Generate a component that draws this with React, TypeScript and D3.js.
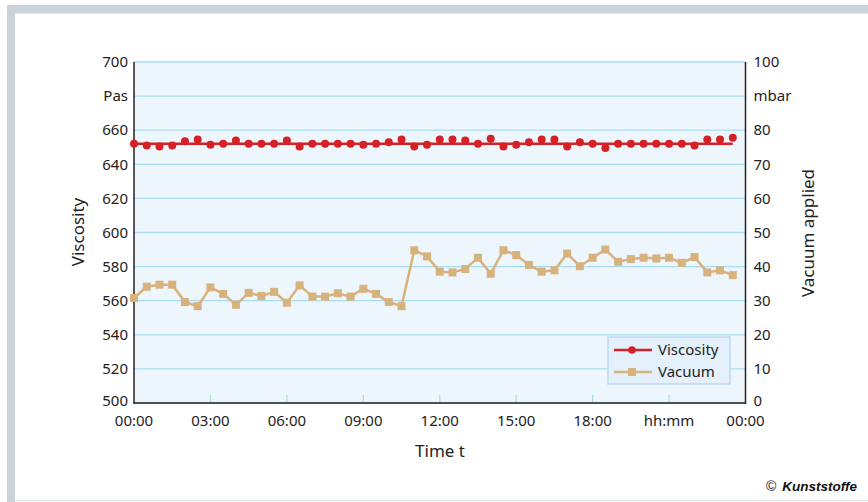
import React from "react";
import * as d3 from "d3";

// Time in half-hour steps (hours)
const viscosity: number[] = [
  652, 651, 650.5, 651, 653.5, 654.5, 651.5, 652, 654, 652, 652, 652,
  654, 650.5, 652, 652, 652, 652, 651.5, 652, 653, 654.5, 650.5, 651.5,
  654.5, 654.5, 654, 652, 655, 650.5, 651.5, 653, 654.5, 654.5, 650.5, 653,
  652, 649.5, 652, 652, 652, 652, 652, 652, 651, 654.5, 654.5, 655.5,
];
const viscosityTrend = 652;
const vacuum: number[] = [
  30.8, 34.1, 34.7, 34.7, 29.6, 28.4, 33.9, 32, 28.8, 32.3, 31.4, 32.6,
  29.4, 34.5, 31.2, 31.2, 32.2, 31.2, 33.5, 32, 29.6, 28.4, 44.8, 43.0,
  38.5, 38.3, 39.3, 42.6, 37.9, 44.8, 43.4, 40.5, 38.5, 38.9, 43.8, 40.1,
  42.6, 45.0, 41.4, 42.2, 42.6, 42.4, 42.6, 41.1, 42.8, 38.3, 38.9, 37.5,
];
const stepHours = 0.5;
const xTicks = [0, 3, 6, 9, 12, 15, 18, 21, 24];
const xTickLabels = ["00:00", "03:00", "06:00", "09:00", "12:00", "15:00", "18:00", "hh:mm", "00:00"];
const leftTicks = [500, 520, 540, 560, 580, 600, 620, 640, 660, 680, 700];
const leftTickLabels = ["500", "520", "540", "560", "580", "600", "620", "640", "660", "Pas", "700"];
const rightTicks = [0, 10, 20, 30, 40, 50, 60, 70, 80, 90, 100];
const rightTickLabels = ["0", "10", "20", "30", "40", "50", "60", "70", "80", "mbar", "100"];

const W = 868;
const H = 502;
const L = 134, R = 745.5, T = 62, B = 403;
const FONT = "'Noto Sans', sans-serif";
const RED = "#d52027";
const TAN = "#d8b27c";

export default function App() {
  const x = d3.scaleLinear().domain([0, 24]).range([L, R]);
  const yL = d3.scaleLinear().domain([500, 700]).range([B, T]);
  const yR = d3.scaleLinear().domain([0, 100]).range([B, T]);

  const vacLine = d3
    .line<number>()
    .x((_, i) => x(i * stepHours))
    .y((d) => yR(d));

  const lastT = (viscosity.length - 1) * stepHours;

  return (
    <svg
      width={W}
      height={H}
      style={{ position: "absolute", left: 0, top: 0, fontFamily: FONT }}
    >
      <rect x={0} y={0} width={W} height={H} fill="#fff" />
      {/* frame */}
      <rect x={7} y={5} width={W - 7} height={8.5} fill="#cbd3db" />
      <rect x={7} y={5} width={8} height={H - 5} fill="#cbd3db" />
      <rect x={15} y={500} width={W - 15} height={1.2} fill="#dde2e6" />

      {/* plot area */}
      <rect x={L} y={T} width={R - L} height={B - T} fill="#eef6fd" />
      {leftTicks.map((t) => (
        <line key={t} x1={L} x2={R} y1={yL(t)} y2={yL(t)} stroke="#a9dcf1" strokeWidth={1.3} />
      ))}
      {xTicks.slice(1, -1).map((t) => (
        <line key={t} x1={x(t)} x2={x(t)} y1={B} y2={B - 8} stroke="#a9dcf1" strokeWidth={1.3} />
      ))}
      <line x1={L} x2={L} y1={T} y2={B + 1} stroke="#222" strokeWidth={1.5} />
      <line x1={R} x2={R} y1={T} y2={B + 1} stroke="#222" strokeWidth={1.5} />
      <line x1={L} x2={R} y1={B} y2={B} stroke="#222" strokeWidth={1.5} />

      {/* vacuum series */}
      <path d={vacLine(vacuum) ?? ""} fill="none" stroke={TAN} strokeWidth={2.5} />
      {vacuum.map((v, i) => (
        <rect key={i} x={x(i * stepHours) - 4} y={yR(v) - 4} width={8} height={8} fill={TAN} />
      ))}

      {/* viscosity series */}
      <line x1={x(0)} x2={x(lastT)} y1={yL(viscosityTrend)} y2={yL(viscosityTrend)} stroke={RED} strokeWidth={2.5} />
      {viscosity.map((v, i) => (
        <circle key={i} cx={x(i * stepHours)} cy={yL(v)} r={4} fill={RED} />
      ))}

      {/* left axis labels */}
      {leftTicks.map((t, i) => (
        <text key={t} x={L - 6} y={yL(t) - (i === 0 ? 2 : 0)} dy="0.35em" textAnchor="end" fontSize={15} fill="#222">
          {leftTickLabels[i]}
        </text>
      ))}
      {rightTicks.map((t, i) => (
        <text key={t} x={R + 8} y={yR(t) - (i === 0 ? 2 : 0)} dy="0.35em" textAnchor="start" fontSize={15} fill="#222">
          {rightTickLabels[i]}
        </text>
      ))}
      {xTicks.map((t, i) => (
        <text key={i} x={x(t)} y={B + 23} textAnchor="middle" fontSize={15} fill="#222">
          {xTickLabels[i]}
        </text>
      ))}

      {/* axis titles */}
      <text transform={`translate(84,232) rotate(-90)`} textAnchor="middle" fontSize={17} fill="#222">
        Viscosity
      </text>
      <text transform={`translate(814,233) rotate(-90)`} textAnchor="middle" fontSize={17} fill="#222">
        Vacuum applied
      </text>
      <text x={440} y={457} textAnchor="middle" fontSize={17} fill="#222">
        Time t
      </text>

      {/* legend */}
      <rect x={608} y={337} width={122} height={47} fill="#e4f0fb" stroke="#bcd9f0" strokeWidth={1.5} />
      <line x1={614} x2={652} y1={350} y2={350} stroke={RED} strokeWidth={2.5} />
      <circle cx={632} cy={350} r={3.8} fill={RED} />
      <text x={658} y={350} dy="0.35em" fontSize={15} fill="#222">Viscosity</text>
      <line x1={614} x2={652} y1={372} y2={372} stroke={TAN} strokeWidth={2.5} />
      <rect x={628} y={368} width={8} height={8} fill={TAN} />
      <text x={658} y={372} dy="0.35em" fontSize={15} fill="#222">Vacuum</text>

      {/* copyright */}
      <text x={857} y={491} textAnchor="end" fontSize={13.5} fill="#111" fontFamily="'Liberation Sans', Arial, sans-serif">
        <tspan fontSize={14}>©</tspan>
        <tspan dx={6} fontWeight="bold" fontStyle="italic">Kunststoffe</tspan>
      </text>
    </svg>
  );
}
